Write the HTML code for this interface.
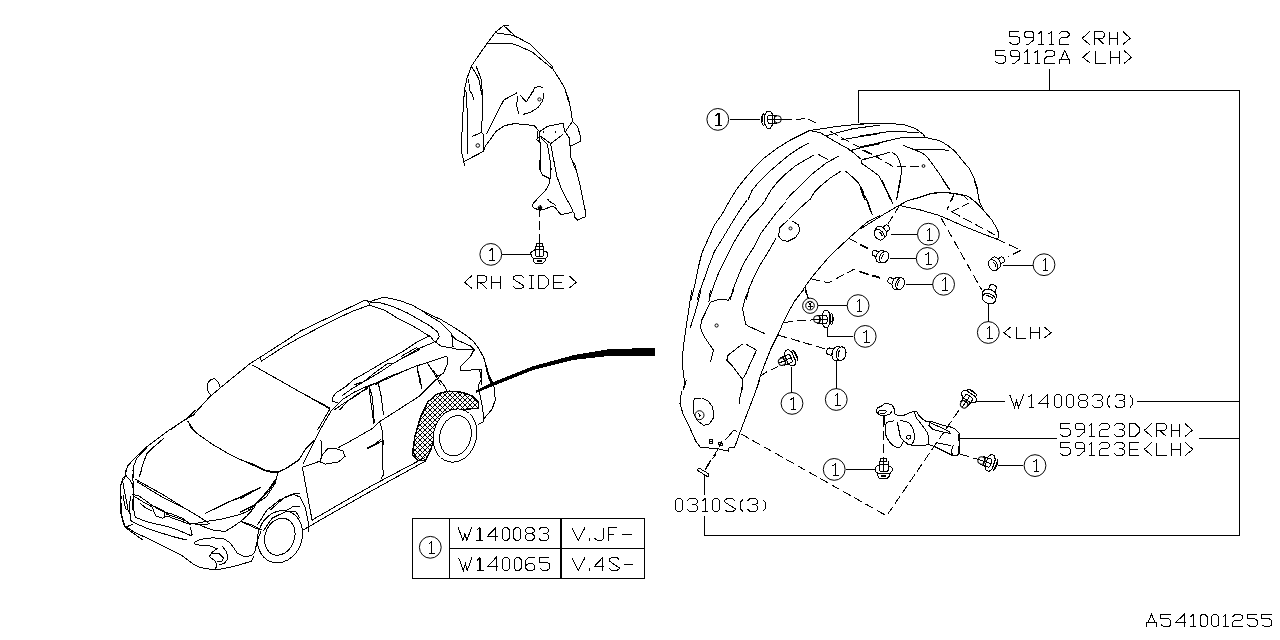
<!DOCTYPE html>
<html><head><meta charset="utf-8"><style>
html,body{margin:0;padding:0;background:#fff;}
body{width:1280px;height:640px;overflow:hidden;}
svg{display:block;}
svg path, svg circle, svg rect, svg ellipse, svg polyline{fill:none;stroke:#000;stroke-width:1;}
.d{stroke-dasharray:9 4;}
.c{shape-rendering:geometricPrecision;}
.s1{font-family:"Liberation Serif",serif;font-size:19px;text-anchor:middle;fill:#000;stroke:none;}
</style></head><body>
<svg width="1280" height="640" viewBox="0 0 1280 640" shape-rendering="crispEdges">
<path d="M 1019.40,31.50 H 1009.40 V 36.00 H 1016.90 L 1019.40,37.80 V 42.70 L 1016.90,44.50 H 1012.70 L 1009.40,42.30 M 1033.40,37.50 H 1026.00 L 1024.40,35.80 V 33.10 L 1026.00,31.50 H 1031.80 L 1033.40,33.10 V 40.50 L 1031.40,41.80 L 1028.70,44.50 H 1025.90 M 1038.40,34.00 L 1041.20,31.50 V 44.50 M 1038.40,44.50 H 1044.00 M 1048.70,34.00 L 1051.50,31.50 V 44.50 M 1048.70,44.50 H 1054.30 M 1059.00,34.00 L 1061.30,31.50 H 1066.80 L 1069.00,33.30 V 35.70 L 1066.80,37.50 H 1061.30 L 1059.00,39.70 V 44.50 H 1069.00 M 1089.70,31.50 L 1082.20,38.30 L 1089.70,44.50 M 1094.70,44.50 V 31.50 H 1102.30 L 1104.30,33.30 V 36.30 L 1102.30,38.50 H 1094.70 M 1097.70,38.50 L 1104.30,44.50 M 1109.30,31.50 V 44.50 M 1117.80,31.50 V 44.50 M 1109.30,38.50 H 1117.80 M 1122.80,31.50 L 1130.30,38.30 L 1122.80,44.50"/>
<path d="M 1005.20,50.50 H 995.20 V 55.00 H 1002.70 L 1005.20,56.80 V 61.70 L 1002.70,63.50 H 998.50 L 995.20,61.30 M 1019.20,56.50 H 1011.80 L 1010.20,54.80 V 52.10 L 1011.80,50.50 H 1017.60 L 1019.20,52.10 V 59.50 L 1017.20,60.80 L 1014.50,63.50 H 1011.70 M 1024.20,53.00 L 1027.00,50.50 V 63.50 M 1024.20,63.50 H 1029.80 M 1034.50,53.00 L 1037.30,50.50 V 63.50 M 1034.50,63.50 H 1040.10 M 1044.80,53.00 L 1047.10,50.50 H 1052.60 L 1054.80,52.30 V 54.70 L 1052.60,56.50 H 1047.10 L 1044.80,58.70 V 63.50 H 1054.80 M 1059.80,63.50 V 59.50 H 1069.80 V 63.50 M 1060.80,59.50 L 1064.80,50.50 L 1068.80,59.50 M 1090.50,50.50 L 1083.00,57.30 L 1090.50,63.50 M 1095.50,50.50 V 63.50 H 1105.50 M 1110.50,50.50 V 63.50 M 1119.00,50.50 V 63.50 M 1110.50,57.50 H 1119.00 M 1124.00,50.50 L 1131.50,57.30 L 1124.00,63.50"/>
<path d="M 472.10,275.50 L 464.60,282.30 L 472.10,288.50 M 477.10,288.50 V 275.50 H 484.70 L 486.70,277.30 V 280.30 L 484.70,282.50 H 477.10 M 480.10,282.50 L 486.70,288.50 M 491.70,275.50 V 288.50 M 500.20,275.50 V 288.50 M 491.70,282.50 H 500.20 M 523.70,277.90 L 521.20,275.50 H 515.50 L 513.20,277.30 V 279.00 L 523.70,285.80 V 286.80 L 521.20,288.50 H 515.70 L 513.20,286.50 M 528.70,275.50 H 533.70 M 531.20,275.50 V 288.50 M 528.70,288.50 H 533.70 M 538.70,275.50 V 288.50 H 544.20 L 548.70,284.30 V 279.70 L 544.20,275.50 Z M 563.70,275.50 H 553.70 V 288.50 H 563.70 M 553.70,282.00 H 562.20 M 568.70,275.50 L 576.20,282.30 L 568.70,288.50"/>
<path d="M 1009.60,394.50 L 1014.60,407.50 L 1016.60,400.50 L 1018.60,407.50 L 1023.60,394.50 M 1028.60,397.00 L 1031.40,394.50 V 407.50 M 1028.60,407.50 H 1034.20 M 1047.50,407.50 V 394.50 L 1038.90,403.30 H 1049.40 M 1056.40,394.50 H 1059.40 L 1061.40,396.50 V 405.50 L 1059.40,407.50 H 1056.40 L 1054.40,405.50 V 396.50 Z M 1068.40,394.50 H 1071.40 L 1073.40,396.50 V 405.50 L 1071.40,407.50 H 1068.40 L 1066.40,405.50 V 396.50 Z M 1080.40,394.50 H 1085.40 L 1087.40,396.40 V 398.70 L 1085.40,400.50 H 1080.40 L 1078.40,398.70 V 396.40 Z M 1080.40,400.50 L 1078.40,402.50 V 405.60 L 1080.40,407.50 H 1085.40 L 1087.40,405.60 V 402.50 L 1085.40,400.50 M 1092.40,397.00 L 1094.60,394.50 H 1100.20 L 1102.40,396.40 V 398.80 L 1100.20,400.50 H 1096.90 M 1100.20,400.50 L 1102.40,402.50 V 405.60 L 1100.20,407.50 H 1094.60 L 1092.40,405.30 M 1109.90,395.50 L 1107.40,398.50 V 404.50 L 1109.90,407.50 M 1114.90,397.00 L 1117.10,394.50 H 1122.70 L 1124.90,396.40 V 398.80 L 1122.70,400.50 H 1119.40 M 1122.70,400.50 L 1124.90,402.50 V 405.60 L 1122.70,407.50 H 1117.10 L 1114.90,405.30 M 1129.90,395.50 L 1132.40,398.50 V 404.50 L 1129.90,407.50"/>
<path d="M 1070.00,423.50 H 1060.00 V 428.00 H 1067.50 L 1070.00,429.80 V 434.70 L 1067.50,436.50 H 1063.30 L 1060.00,434.30 M 1084.00,429.50 H 1076.60 L 1075.00,427.80 V 425.10 L 1076.60,423.50 H 1082.40 L 1084.00,425.10 V 432.50 L 1082.00,433.80 L 1079.30,436.50 H 1076.50 M 1089.00,426.00 L 1091.80,423.50 V 436.50 M 1089.00,436.50 H 1094.60 M 1099.30,426.00 L 1101.60,423.50 H 1107.10 L 1109.30,425.30 V 427.70 L 1107.10,429.50 H 1101.60 L 1099.30,431.70 V 436.50 H 1109.30 M 1114.30,426.00 L 1116.50,423.50 H 1122.10 L 1124.30,425.40 V 427.80 L 1122.10,429.50 H 1118.80 M 1122.10,429.50 L 1124.30,431.50 V 434.60 L 1122.10,436.50 H 1116.50 L 1114.30,434.30 M 1129.30,423.50 V 436.50 H 1134.80 L 1139.30,432.30 V 427.70 L 1134.80,423.50 Z M 1151.80,423.50 L 1144.30,430.30 L 1151.80,436.50 M 1156.80,436.50 V 423.50 H 1164.40 L 1166.40,425.30 V 428.30 L 1164.40,430.50 H 1156.80 M 1159.80,430.50 L 1166.40,436.50 M 1171.40,423.50 V 436.50 M 1179.90,423.50 V 436.50 M 1171.40,430.50 H 1179.90 M 1184.90,423.50 L 1192.40,430.30 L 1184.90,436.50"/>
<path d="M 1070.00,442.50 H 1060.00 V 447.00 H 1067.50 L 1070.00,448.80 V 453.70 L 1067.50,455.50 H 1063.30 L 1060.00,453.30 M 1084.00,448.50 H 1076.60 L 1075.00,446.80 V 444.10 L 1076.60,442.50 H 1082.40 L 1084.00,444.10 V 451.50 L 1082.00,452.80 L 1079.30,455.50 H 1076.50 M 1089.00,445.00 L 1091.80,442.50 V 455.50 M 1089.00,455.50 H 1094.60 M 1099.30,445.00 L 1101.60,442.50 H 1107.10 L 1109.30,444.30 V 446.70 L 1107.10,448.50 H 1101.60 L 1099.30,450.70 V 455.50 H 1109.30 M 1114.30,445.00 L 1116.50,442.50 H 1122.10 L 1124.30,444.40 V 446.80 L 1122.10,448.50 H 1118.80 M 1122.10,448.50 L 1124.30,450.50 V 453.60 L 1122.10,455.50 H 1116.50 L 1114.30,453.30 M 1139.30,442.50 H 1129.30 V 455.50 H 1139.30 M 1129.30,449.00 H 1137.80 M 1151.80,442.50 L 1144.30,449.30 L 1151.80,455.50 M 1156.80,442.50 V 455.50 H 1166.80 M 1171.80,442.50 V 455.50 M 1180.30,442.50 V 455.50 M 1171.80,449.50 H 1180.30 M 1185.30,442.50 L 1192.80,449.30 L 1185.30,455.50"/>
<path d="M 677.40,498.50 H 680.40 L 682.40,500.50 V 509.50 L 680.40,511.50 H 677.40 L 675.40,509.50 V 500.50 Z M 687.40,501.00 L 689.60,498.50 H 695.20 L 697.40,500.40 V 502.80 L 695.20,504.50 H 691.90 M 695.20,504.50 L 697.40,506.50 V 509.60 L 695.20,511.50 H 689.60 L 687.40,509.30 M 702.40,501.00 L 705.20,498.50 V 511.50 M 702.40,511.50 H 708.00 M 714.70,498.50 H 717.70 L 719.70,500.50 V 509.50 L 717.70,511.50 H 714.70 L 712.70,509.50 V 500.50 Z M 735.20,500.90 L 732.70,498.50 H 727.00 L 724.70,500.30 V 502.00 L 735.20,508.80 V 509.80 L 732.70,511.50 H 727.20 L 724.70,509.50 M 742.70,499.50 L 740.20,502.50 V 508.50 L 742.70,511.50 M 747.70,501.00 L 749.90,498.50 H 755.50 L 757.70,500.40 V 502.80 L 755.50,504.50 H 752.20 M 755.50,504.50 L 757.70,506.50 V 509.60 L 755.50,511.50 H 749.90 L 747.70,509.30 M 762.70,499.50 L 765.20,502.50 V 508.50 L 762.70,511.50"/>
<path d="M 458.20,527.50 L 463.00,540.50 L 464.92,533.50 L 466.84,540.50 L 471.64,527.50 M 476.73,530.50 L 479.32,527.70 V 540.50 M 480.47,527.70 V 540.50 M 476.44,540.50 H 483.16 M 495.74,540.50 V 527.50 L 487.48,536.30 H 497.56 M 504.28,527.50 H 507.16 L 509.08,529.50 V 538.50 L 507.16,540.50 H 504.28 L 502.36,538.50 V 529.50 Z M 515.80,527.50 H 518.68 L 520.60,529.50 V 538.50 L 518.68,540.50 H 515.80 L 513.88,538.50 V 529.50 Z M 527.32,527.50 H 532.12 L 534.04,529.40 V 531.70 L 532.12,533.50 H 527.32 L 525.40,531.70 V 529.40 Z M 527.32,533.50 L 525.40,535.50 V 538.60 L 527.32,540.50 H 532.12 L 534.04,538.60 V 535.50 L 532.12,533.50 M 538.84,530.00 L 540.95,527.50 H 546.33 L 548.44,529.40 V 531.80 L 546.33,533.50 H 543.16 M 546.33,533.50 L 548.44,535.50 V 538.60 L 546.33,540.50 H 540.95 L 538.84,538.30"/>
<path d="M 571.70,527.50 L 578.35,540.50 L 585.00,527.50 M 589.75,538.00 V 540.50 M 603.52,527.50 V 538.20 L 601.43,540.50 H 597.35 L 594.50,538.30 M 617.30,527.50 H 608.27 V 540.50 M 608.27,534.00 H 613.98 M 622.05,534.00 H 631.55"/>
<path d="M 458.60,557.50 L 463.40,570.50 L 465.32,563.50 L 467.24,570.50 L 472.04,557.50 M 477.13,560.50 L 479.72,557.70 V 570.50 M 480.87,557.70 V 570.50 M 476.84,570.50 H 483.56 M 496.14,570.50 V 557.50 L 487.88,566.30 H 497.96 M 504.68,557.50 H 507.56 L 509.48,559.50 V 568.50 L 507.56,570.50 H 504.68 L 502.76,568.50 V 559.50 Z M 516.20,557.50 H 519.08 L 521.00,559.50 V 568.50 L 519.08,570.50 H 516.20 L 514.28,568.50 V 559.50 Z M 534.92,557.50 H 528.68 L 525.80,560.50 V 568.50 L 528.01,570.50 H 532.71 L 534.92,568.50 V 565.70 L 532.71,563.80 H 528.01 L 525.80,565.70 M 549.32,557.50 H 539.72 V 562.00 H 546.92 L 549.32,563.80 V 568.70 L 546.92,570.50 H 542.89 L 539.72,568.30"/>
<path d="M 571.70,557.50 L 578.35,570.50 L 585.00,557.50 M 589.75,568.00 V 570.50 M 602.67,570.50 V 557.50 L 594.50,566.30 H 604.48 M 619.20,559.90 L 616.83,557.50 H 611.41 L 609.23,559.30 V 561.00 L 619.20,567.80 V 568.80 L 616.83,570.50 H 611.60 L 609.23,568.50 M 623.95,564.00 H 633.45"/>
<path d="M 1146.50,626.70 V 622.95 H 1156.50 V 626.70 M 1147.50,622.95 L 1151.50,614.50 L 1155.50,622.95 M 1170.95,614.50 H 1160.95 V 618.72 H 1168.45 L 1170.95,620.41 V 625.01 L 1168.45,626.70 H 1164.25 L 1160.95,624.64 M 1184.00,626.70 V 614.50 L 1175.40,622.76 H 1185.90 M 1190.35,616.85 L 1193.15,614.50 V 626.70 M 1190.35,626.70 H 1195.95 M 1202.10,614.50 H 1205.10 L 1207.10,616.38 V 624.82 L 1205.10,626.70 H 1202.10 L 1200.10,624.82 V 616.38 Z M 1213.55,614.50 H 1216.55 L 1218.55,616.38 V 624.82 L 1216.55,626.70 H 1213.55 L 1211.55,624.82 V 616.38 Z M 1223.00,616.85 L 1225.80,614.50 V 626.70 M 1223.00,626.70 H 1228.60 M 1232.75,616.85 L 1235.05,614.50 H 1240.55 L 1242.75,616.19 V 618.44 L 1240.55,620.13 H 1235.05 L 1232.75,622.20 V 626.70 H 1242.75 M 1257.20,614.50 H 1247.20 V 618.72 H 1254.70 L 1257.20,620.41 V 625.01 L 1254.70,626.70 H 1250.50 L 1247.20,624.64 M 1271.65,614.50 H 1261.65 V 618.72 H 1269.15 L 1271.65,620.41 V 625.01 L 1269.15,626.70 H 1264.95 L 1261.65,624.64"/>
<path d="M 1011.40,326.50 L 1003.90,332.78 L 1011.40,338.50 M 1016.00,326.50 V 338.50 H 1026.00 M 1030.60,326.50 V 338.50 M 1039.10,326.50 V 338.50 M 1030.60,332.96 H 1039.10 M 1043.70,326.50 L 1051.20,332.78 L 1043.70,338.50"/>
<path d="M1049.50,69.00 L1049.50,90.50"/>
<path d="M858.50,123.00 L858.50,90.50 L1239.50,90.50 L1239.50,535.50 L704.50,535.50 L704.50,516.00"/>
<path d="M704.50,474.00 L704.50,495.00"/>
<path d="M1137.00,401.50 L1239.50,401.50"/>
<path d="M1199.00,438.50 L1239.50,438.50"/>
<rect x="412.5" y="518.5" width="232" height="60"/>
<path d="M449.50,518.50 L449.50,578.50"/>
<path d="M560.50,518.50 L560.50,578.50"/>
<path d="M561.50,518.50 L561.50,578.50"/>
<path d="M449.50,548.50 L644.50,548.50"/>
<circle cx="430.30" cy="547.30" r="10.90" class="c"/>
<path d="M428.80,543.80 L431.80,541.30 V553.50 M428.80,553.50 H434.60"/>
<g transform="translate(768.85 119.50) rotate(0.0) scale(1.000)"><path d="M-5.35,-6 Q-9.35,-0.2 -5.35,6.3 M-4.05,-5 V5.5 M-5.85,-3 Q-7.35,-0.2 -5.85,2.5"/><path d="M-1.85,-8.2 H1.45 L3.85,-5 V5 L1.45,8.5 H-1.85 L-3.85,5 V-5 Z" style="fill:#fff"/><path d="M-0.35,-4.5 H8.65 M-0.35,4 H8.65 M-0.35,-4.5 Q-2.35,-0.2 -0.35,4 M6.15,-4.5 V4"/><circle cx="8.85" cy="-0.2" r="3.6" class="c"/><path d="M-0.85,-0.2 H12.5"/></g>
<path d="M729.60,119.30 L760.00,119.30"/>
<path d="M781.00,119.30 L791.80,119.30"/>
<g transform="translate(539.10 254.50) rotate(0.0) scale(1.000)"><path d="M-2.8,-11 H3.1 V-8.4 H-2.8 Z"/><path d="M-3.7,-8.4 V1 L-2.5,2.3 H3.4 L4.6,1 V-8.4"/><path d="M-8.3,-2.1 L-4.35,-4.7 M4.6,-3.4 H7 L8.6,-1.2 V1.5 L6.6,4.1 H-5.2 L-7.85,1.9 L-8.3,-2.1"/><path d="M-5.9,4.9 L-4.8,8 L-3.5,9.1 H3.5 L6.15,6.25 L6.6,4.1"/><path d="M-2,5.6 H2.2 V6.7 H-2 Z"/><path d="M0.2,-12 V1.5 M-3.7,-5 H4.6"/></g>
<path d="M502.30,254.40 L530.70,254.40"/>
<path d="M539.10,208.00 L539.10,243.00" class="d"/>
<circle cx="540" cy="207.7" r="1.8" class="c"/>
<path d="M540,205 V211 M538,207.7 H542"/>
<g transform="translate(879.00 234.50) rotate(-40.0) scale(1.000)"><ellipse cx="10.5" cy="0" rx="2.2" ry="3" style="fill:#fff"/><path d="M10,-2.5 L7,-3.5 L6,0 L7,3.5 L10,2.5" style="fill:#fff"/><ellipse cx="3.2" cy="-0.5" rx="4.6" ry="6.4" style="fill:#fff"/><ellipse cx="0" cy="0.3" rx="4.2" ry="6" style="fill:#fff"/><path d="M1.5,-2.5 Q3,0.5 1.5,3.5"/></g>
<path d="M891.20,234.40 L917.00,234.40"/>
<g transform="translate(884.00 257.50) rotate(205.0) scale(1.000)"><ellipse cx="10.5" cy="0" rx="2.2" ry="3" style="fill:#fff"/><path d="M10,-2.5 L7,-3.5 L6,0 L7,3.5 L10,2.5" style="fill:#fff"/><ellipse cx="3.2" cy="-0.5" rx="4.6" ry="6.4" style="fill:#fff"/><ellipse cx="0" cy="0.3" rx="4.2" ry="6" style="fill:#fff"/><path d="M1.5,-2.5 Q3,0.5 1.5,3.5"/></g>
<path d="M889.70,258.40 L916.20,258.40"/>
<g transform="translate(900.00 284.00) rotate(200.0) scale(1.000)"><ellipse cx="10.5" cy="0" rx="2.2" ry="3" style="fill:#fff"/><path d="M10,-2.5 L7,-3.5 L6,0 L7,3.5 L10,2.5" style="fill:#fff"/><ellipse cx="3.2" cy="-0.5" rx="4.6" ry="6.4" style="fill:#fff"/><ellipse cx="0" cy="0.3" rx="4.2" ry="6" style="fill:#fff"/><path d="M1.5,-2.5 Q3,0.5 1.5,3.5"/></g>
<path d="M906.10,284.40 L932.70,284.40"/>
<g transform="translate(993.00 265.00) rotate(-30.0) scale(1.000)"><ellipse cx="10.5" cy="0" rx="2.2" ry="3" style="fill:#fff"/><path d="M10,-2.5 L7,-3.5 L6,0 L7,3.5 L10,2.5" style="fill:#fff"/><ellipse cx="3.2" cy="-0.5" rx="4.6" ry="6.4" style="fill:#fff"/><ellipse cx="0" cy="0.3" rx="4.2" ry="6" style="fill:#fff"/><path d="M1.5,-2.5 Q3,0.5 1.5,3.5"/></g>
<path d="M1003.00,265.20 L1032.70,265.20"/>
<g transform="translate(988.50 298.50) rotate(-68.0) scale(1.150)"><ellipse cx="10.5" cy="0" rx="2.2" ry="3" style="fill:#fff"/><path d="M10,-2.5 L7,-3.5 L6,0 L7,3.5 L10,2.5" style="fill:#fff"/><ellipse cx="3.2" cy="-0.5" rx="4.6" ry="6.4" style="fill:#fff"/><ellipse cx="0" cy="0.3" rx="4.2" ry="6" style="fill:#fff"/><path d="M1.5,-2.5 Q3,0.5 1.5,3.5"/></g>
<path d="M988.40,303.60 L988.40,321.60"/>
<circle cx="810.2" cy="305.8" r="7.6" class="c"/><circle cx="810" cy="305.6" r="4.3" class="c"/>
<path d="M808,302 L810,304.5 L812,302 M810,304.5 V309 M807.5,306 H812.5"/>
<path d="M818.00,305.60 L847.20,305.60"/>
<g transform="translate(826.00 319.00) rotate(180.0) scale(1.000)"><path d="M-5.35,-6 Q-9.35,-0.2 -5.35,6.3 M-4.05,-5 V5.5 M-5.85,-3 Q-7.35,-0.2 -5.85,2.5"/><path d="M-1.85,-8.2 H1.45 L3.85,-5 V5 L1.45,8.5 H-1.85 L-3.85,5 V-5 Z" style="fill:#fff"/><path d="M-0.35,-4.5 H8.65 M-0.35,4 H8.65 M-0.35,-4.5 Q-2.35,-0.2 -0.35,4 M6.15,-4.5 V4"/><circle cx="8.85" cy="-0.2" r="3.6" class="c"/><path d="M-0.85,-0.2 H12.5"/></g>
<path d="M827.70,327.50 L827.70,336.40 L852.50,336.40"/>
<g transform="translate(790.00 358.00) rotate(156.0) scale(1.000)"><path d="M-5.35,-6 Q-9.35,-0.2 -5.35,6.3 M-4.05,-5 V5.5 M-5.85,-3 Q-7.35,-0.2 -5.85,2.5"/><path d="M-1.85,-8.2 H1.45 L3.85,-5 V5 L1.45,8.5 H-1.85 L-3.85,5 V-5 Z" style="fill:#fff"/><path d="M-0.35,-4.5 H8.65 M-0.35,4 H8.65 M-0.35,-4.5 Q-2.35,-0.2 -0.35,4 M6.15,-4.5 V4"/><circle cx="8.85" cy="-0.2" r="3.6" class="c"/><path d="M-0.85,-0.2 H12.5"/></g>
<path d="M791.40,366.60 L791.40,392.60"/>
<g transform="translate(841.00 354.00) rotate(192.0) scale(1.150)"><ellipse cx="10.5" cy="0" rx="2.2" ry="3" style="fill:#fff"/><path d="M10,-2.5 L7,-3.5 L6,0 L7,3.5 L10,2.5" style="fill:#fff"/><ellipse cx="3.2" cy="-0.5" rx="4.6" ry="6.4" style="fill:#fff"/><ellipse cx="0" cy="0.3" rx="4.2" ry="6" style="fill:#fff"/><path d="M1.5,-2.5 Q3,0.5 1.5,3.5"/></g>
<path d="M836.25,362.00 L836.25,388.60"/>
<g transform="translate(969.00 397.00) rotate(125.0) scale(1.000)"><path d="M-5.35,-6 Q-9.35,-0.2 -5.35,6.3 M-4.05,-5 V5.5 M-5.85,-3 Q-7.35,-0.2 -5.85,2.5"/><path d="M-1.85,-8.2 H1.45 L3.85,-5 V5 L1.45,8.5 H-1.85 L-3.85,5 V-5 Z" style="fill:#fff"/><path d="M-0.35,-4.5 H8.65 M-0.35,4 H8.65 M-0.35,-4.5 Q-2.35,-0.2 -0.35,4 M6.15,-4.5 V4"/><circle cx="8.85" cy="-0.2" r="3.6" class="c"/><path d="M-0.85,-0.2 H12.5"/></g>
<path d="M975.60,401.30 L1005.30,401.30"/>
<g transform="translate(990.00 463.00) rotate(198.0) scale(1.000)"><path d="M-5.35,-6 Q-9.35,-0.2 -5.35,6.3 M-4.05,-5 V5.5 M-5.85,-3 Q-7.35,-0.2 -5.85,2.5"/><path d="M-1.85,-8.2 H1.45 L3.85,-5 V5 L1.45,8.5 H-1.85 L-3.85,5 V-5 Z" style="fill:#fff"/><path d="M-0.35,-4.5 H8.65 M-0.35,4 H8.65 M-0.35,-4.5 Q-2.35,-0.2 -0.35,4 M6.15,-4.5 V4"/><circle cx="8.85" cy="-0.2" r="3.6" class="c"/><path d="M-0.85,-0.2 H12.5"/></g>
<path d="M998.30,465.60 L1023.30,465.60"/>
<g transform="translate(883.40 469.50) rotate(0.0) scale(1.000)"><path d="M-2.8,-11 H3.1 V-8.4 H-2.8 Z"/><path d="M-3.7,-8.4 V1 L-2.5,2.3 H3.4 L4.6,1 V-8.4"/><path d="M-8.3,-2.1 L-4.35,-4.7 M4.6,-3.4 H7 L8.6,-1.2 V1.5 L6.6,4.1 H-5.2 L-7.85,1.9 L-8.3,-2.1"/><path d="M-5.9,4.9 L-4.8,8 L-3.5,9.1 H3.5 L6.15,6.25 L6.6,4.1"/><path d="M-2,5.6 H2.2 V6.7 H-2 Z"/><path d="M0.2,-12 V1.5 M-3.7,-5 H4.6"/></g>
<path d="M846.00,469.40 L874.80,469.40"/>
<path d="M883.40,418.00 L883.40,458.00" class="d"/>
<path d="M697,470 L699,468 L709,474 L708,477 Z"/>
<path d="M705.00,470.00 L716.00,454.00" class="d"/>
<path d="M740.90,433.90 L886.60,515.80 L960.00,408.60" class="d"/>
<path d="M960.00,454.00 L978.00,459.40" class="d"/>
<defs><clipPath id="ac"><path d="M412.20,454.90 L414.90,436.30 L420.20,417.70 L428.10,401.70 L437.40,393.80 L449.40,391.10 L462.70,392.40 L473.30,396.40 L478.60,401.70 L478.60,408.00 L476.00,408.40 L460.00,409.70 L446.70,415.00 L438.80,423.00 L434.80,436.30 L430.80,449.60 L425.50,460.20 L417.50,460.20 Z"/></clipPath></defs>
<path d="M400.0,250.0 L490.0,340.0 M400.0,280.0 L490.0,190.0 M400.0,255.0 L490.0,345.0 M400.0,285.0 L490.0,195.0 M400.0,260.0 L490.0,350.0 M400.0,290.0 L490.0,200.0 M400.0,265.0 L490.0,355.0 M400.0,295.0 L490.0,205.0 M400.0,270.0 L490.0,360.0 M400.0,300.0 L490.0,210.0 M400.0,275.0 L490.0,365.0 M400.0,305.0 L490.0,215.0 M400.0,280.0 L490.0,370.0 M400.0,310.0 L490.0,220.0 M400.0,285.0 L490.0,375.0 M400.0,315.0 L490.0,225.0 M400.0,290.0 L490.0,380.0 M400.0,320.0 L490.0,230.0 M400.0,295.0 L490.0,385.0 M400.0,325.0 L490.0,235.0 M400.0,300.0 L490.0,390.0 M400.0,330.0 L490.0,240.0 M400.0,305.0 L490.0,395.0 M400.0,335.0 L490.0,245.0 M400.0,310.0 L490.0,400.0 M400.0,340.0 L490.0,250.0 M400.0,315.0 L490.0,405.0 M400.0,345.0 L490.0,255.0 M400.0,320.0 L490.0,410.0 M400.0,350.0 L490.0,260.0 M400.0,325.0 L490.0,415.0 M400.0,355.0 L490.0,265.0 M400.0,330.0 L490.0,420.0 M400.0,360.0 L490.0,270.0 M400.0,335.0 L490.0,425.0 M400.0,365.0 L490.0,275.0 M400.0,340.0 L490.0,430.0 M400.0,370.0 L490.0,280.0 M400.0,345.0 L490.0,435.0 M400.0,375.0 L490.0,285.0 M400.0,350.0 L490.0,440.0 M400.0,380.0 L490.0,290.0 M400.0,355.0 L490.0,445.0 M400.0,385.0 L490.0,295.0 M400.0,360.0 L490.0,450.0 M400.0,390.0 L490.0,300.0 M400.0,365.0 L490.0,455.0 M400.0,395.0 L490.0,305.0 M400.0,370.0 L490.0,460.0 M400.0,400.0 L490.0,310.0 M400.0,375.0 L490.0,465.0 M400.0,405.0 L490.0,315.0 M400.0,380.0 L490.0,470.0 M400.0,410.0 L490.0,320.0 M400.0,385.0 L490.0,475.0 M400.0,415.0 L490.0,325.0 M400.0,390.0 L490.0,480.0 M400.0,420.0 L490.0,330.0 M400.0,395.0 L490.0,485.0 M400.0,425.0 L490.0,335.0 M400.0,400.0 L490.0,490.0 M400.0,430.0 L490.0,340.0 M400.0,405.0 L490.0,495.0 M400.0,435.0 L490.0,345.0 M400.0,410.0 L490.0,500.0 M400.0,440.0 L490.0,350.0 M400.0,415.0 L490.0,505.0 M400.0,445.0 L490.0,355.0 M400.0,420.0 L490.0,510.0 M400.0,450.0 L490.0,360.0 M400.0,425.0 L490.0,515.0 M400.0,455.0 L490.0,365.0 M400.0,430.0 L490.0,520.0 M400.0,460.0 L490.0,370.0 M400.0,435.0 L490.0,525.0 M400.0,465.0 L490.0,375.0 M400.0,440.0 L490.0,530.0 M400.0,470.0 L490.0,380.0 M400.0,445.0 L490.0,535.0 M400.0,475.0 L490.0,385.0 M400.0,450.0 L490.0,540.0 M400.0,480.0 L490.0,390.0 M400.0,455.0 L490.0,545.0 M400.0,485.0 L490.0,395.0 M400.0,460.0 L490.0,550.0 M400.0,490.0 L490.0,400.0 M400.0,465.0 L490.0,555.0 M400.0,495.0 L490.0,405.0 M400.0,470.0 L490.0,560.0 M400.0,500.0 L490.0,410.0 M400.0,475.0 L490.0,565.0 M400.0,505.0 L490.0,415.0 M400.0,480.0 L490.0,570.0 M400.0,510.0 L490.0,420.0 M400.0,485.0 L490.0,575.0 M400.0,515.0 L490.0,425.0 M400.0,490.0 L490.0,580.0 M400.0,520.0 L490.0,430.0 M400.0,495.0 L490.0,585.0 M400.0,525.0 L490.0,435.0 M400.0,500.0 L490.0,590.0 M400.0,530.0 L490.0,440.0 M400.0,505.0 L490.0,595.0 M400.0,535.0 L490.0,445.0 M400.0,510.0 L490.0,600.0 M400.0,540.0 L490.0,450.0 M400.0,515.0 L490.0,605.0 M400.0,545.0 L490.0,455.0 M400.0,520.0 L490.0,610.0 M400.0,550.0 L490.0,460.0 M400.0,525.0 L490.0,615.0 M400.0,555.0 L490.0,465.0 M400.0,530.0 L490.0,620.0 M400.0,560.0 L490.0,470.0 M400.0,535.0 L490.0,625.0 M400.0,565.0 L490.0,475.0 M400.0,540.0 L490.0,630.0 M400.0,570.0 L490.0,480.0 M400.0,545.0 L490.0,635.0 M400.0,575.0 L490.0,485.0" clip-path="url(#ac)"/>
<path d="M412.20,454.90 L414.90,436.30 L420.20,417.70 L428.10,401.70 L437.40,393.80 L449.40,391.10 L462.70,392.40 L473.30,396.40 L478.60,401.70 L478.60,408.00 L476.00,408.40 L460.00,409.70 L446.70,415.00 L438.80,423.00 L434.80,436.30 L430.80,449.60 L425.50,460.20 L417.50,460.20 Z" style="stroke-width:1.4"/>
<ellipse cx="280.00" cy="536.70" rx="22.00" ry="26.70" transform="rotate(20.0 280.00 536.70)" style="fill:#fff"/>
<ellipse cx="279.80" cy="536.70" rx="14.70" ry="19.00" transform="rotate(20.0 279.80 536.70)"/>
<ellipse cx="455.00" cy="435.50" rx="21.50" ry="27.00" transform="rotate(15.0 455.00 435.50)" style="fill:#fff"/>
<ellipse cx="455.50" cy="435.80" rx="15.50" ry="20.50" transform="rotate(15.0 455.50 435.80)"/>
<path d="M476,391 L495,381.9 L532.5,366.9 L573.75,355.6 L607.5,350 L654.4,348.1 L654.4,355.6 L607.5,355.6 L573.75,359.4 L532.5,369.7 L476,392.2 Z" style="fill:#000"/>
<ellipse cx="882.20" cy="411.80" rx="4.00" ry="1.50" transform="rotate(0.0 882.20 411.80)"/>
<circle cx="908.6" cy="437.1" r="2"/>
<path d="M960.00,438.30 L1057.00,438.30"/>
<circle cx="790.5" cy="228.4" r="1.5" class="c"/>
<circle cx="716.6" cy="325.5" r="1.6" class="c"/>
<circle cx="699.5" cy="415.2" r="4.5" class="c"/>
<circle cx="923.5" cy="166.0" r="1.4" class="c"/>
<circle cx="477.8" cy="145.5" r="1.8" class="c"/>
<circle cx="539.4" cy="99.4" r="1.6" class="c"/>
<path d="M698.5,413.5 L700,415.5 L699,417"/>
<path d="M709.5,439 H712.5 V443.5 H709.5 Z M709.5,441.2 H712.5"/>
<path d="M718.5,443 L721.5,442 L722.5,445 L719.5,446 Z M719,444.5 L722,443.5"/>
<circle cx="717.80" cy="119.40" r="10.90" class="c"/>
<path d="M715.30,115.90 L718.30,113.40"/>
<path d="M718.60,112.90 V125.40" style="stroke-width:2"/>
<path d="M714.80,125.40 H722.30"/>
<circle cx="928.40" cy="234.20" r="10.90" class="c"/>
<path d="M926.90,230.70 L929.90,228.20 V240.40 M926.90,240.40 H932.70"/>
<circle cx="927.20" cy="258.40" r="10.90" class="c"/>
<path d="M925.70,254.90 L928.70,252.40 V264.60 M925.70,264.60 H931.50"/>
<circle cx="943.60" cy="284.30" r="10.90" class="c"/>
<path d="M942.10,280.80 L945.10,278.30 V290.50 M942.10,290.50 H947.90"/>
<circle cx="1044.00" cy="264.70" r="10.90" class="c"/>
<path d="M1042.50,261.20 L1045.50,258.70 V270.90 M1042.50,270.90 H1048.30"/>
<circle cx="988.30" cy="332.50" r="10.90" class="c"/>
<path d="M986.80,329.00 L989.80,326.50 V338.70 M986.80,338.70 H992.60"/>
<circle cx="490.80" cy="254.40" r="10.90" class="c"/>
<path d="M489.30,250.90 L492.30,248.40 V260.60 M489.30,260.60 H495.10"/>
<circle cx="858.10" cy="305.60" r="10.90" class="c"/>
<path d="M856.60,302.10 L859.60,299.60 V311.80 M856.60,311.80 H862.40"/>
<circle cx="865.20" cy="336.40" r="10.90" class="c"/>
<path d="M863.70,332.90 L866.70,330.40 V342.60 M863.70,342.60 H869.50"/>
<circle cx="792.00" cy="403.40" r="10.90" class="c"/>
<path d="M790.50,399.90 L793.50,397.40 V409.60 M790.50,409.60 H796.30"/>
<circle cx="836.25" cy="399.50" r="10.90" class="c"/>
<path d="M834.75,396.00 L837.75,393.50 V405.70 M834.75,405.70 H840.55"/>
<circle cx="834.20" cy="469.40" r="10.90" class="c"/>
<path d="M832.70,465.90 L835.70,463.40 V475.60 M832.70,475.60 H838.50"/>
<circle cx="1035.00" cy="465.60" r="10.90" class="c"/>
<path d="M1033.50,462.10 L1036.50,459.60 V471.80 M1033.50,471.80 H1039.30"/>
<path d="M503.75,25.62 L508.50,25.25"/>
<path d="M503.75,25.62 L495.62,31.88 L486.88,43.75 L479.38,54.38 L471.25,66.25 L466.88,78.75 L464.38,90.00 L463.75,100.00"/>
<path d="M495.62,32.50 L496.88,33.12 L513.12,35.25 L518.12,38.12"/>
<path d="M503.75,25.62 L515.00,36.00 L530.62,44.38 L552.50,66.25 L553.12,69.38 L560.00,80.00 L565.00,88.75 L568.12,100.00"/>
<path d="M486.88,43.75 L490.00,43.12 L511.88,43.75 L518.12,45.62 L532.50,52.25 L552.50,68.75"/>
<path d="M471.25,66.25 L475.00,71.88 L477.75,76.88 L479.38,80.62 L480.00,85.00 L480.00,90.62"/>
<path d="M476.25,66.25 L477.75,70.62 L479.38,74.38 L481.00,78.75 L481.88,83.75 L482.25,100.00"/>
<path d="M468.75,78.75 L469.38,90.00 L472.50,95.00 L473.75,100.00"/>
<path d="M517.50,92.50 L505.00,99.38"/>
<path d="M527.50,100.00 L535.00,87.50 L540.00,86.25 L543.12,88.12"/>
<path d="M464.38,90.00 L463.75,102.50 L462.75,115.00 L462.25,127.50 L461.50,142.50 L461.88,153.75 L463.75,161.25 L464.38,165.62"/>
<path d="M462.50,162.25 L483.75,151.25"/>
<path d="M465.62,90.00 L466.88,96.25 L467.50,153.75"/>
<path d="M481.88,90.00 L482.25,102.50 L481.88,132.50"/>
<path d="M472.25,136.50 L481.25,132.50 L483.12,134.38 L483.75,141.88 L483.75,151.25"/>
<path d="M486.25,134.38 L503.75,100.00 L517.50,92.50"/>
<path d="M518.12,95.62 L516.50,105.00 L518.75,113.50"/>
<path d="M520.00,95.00 L526.25,101.88 L533.12,91.25"/>
<path d="M543.75,93.12 L542.75,100.62 L538.12,107.50 L530.00,112.50 L523.12,114.38"/>
<path d="M483.75,151.25 L485.25,146.25 L496.25,131.25 L504.38,125.62 L515.00,123.50 L519.38,124.00 L534.38,125.62 L538.12,130.00 L536.88,140.00 L538.75,141.25"/>
<path d="M540.00,131.25 L547.50,126.25 L563.12,123.12 L564.38,130.62 L569.38,138.12 L570.00,146.25 L570.00,155.00 L575.62,170.00"/>
<path d="M565.00,90.00 L568.12,97.50 L570.62,108.75 L572.50,121.25 L577.50,126.25 L580.00,135.00 L580.62,141.25 L570.00,146.25"/>
<path d="M572.50,121.25 L565.62,131.25"/>
<path d="M540.00,131.25 L539.00,137.50 L540.00,142.50 L540.00,170.00"/>
<path d="M540.62,136.25 L547.50,141.25 L550.62,143.75 L553.12,157.50 L555.62,170.00"/>
<path d="M541.25,138.12 L547.50,144.38 L548.75,152.50 L550.00,160.00 L551.25,170.00"/>
<path d="M550.62,143.75 L563.12,134.38"/>
<path d="M543.12,131.25 L543.12,133.12"/>
<path d="M555.00,131.25 L555.25,133.12"/>
<path d="M540.00,160.00 L539.62,168.75 L542.50,175.00 L550.00,178.75"/>
<path d="M550.00,160.00 L550.00,178.75 L548.75,185.00 L545.00,191.25 L537.50,198.75 L532.50,204.38 L533.12,207.50 L538.75,210.00 L543.75,209.38 L552.50,206.25 L555.62,208.12 L558.12,211.25 L560.62,214.38 L566.25,213.75 L572.50,211.88 L574.38,213.12 L574.38,216.88 L577.50,220.00 L585.00,216.88 L585.62,212.50 L580.00,185.00 L575.00,165.00 L572.50,161.25"/>
<path d="M553.75,160.00 L556.88,176.25 L560.62,186.88 L565.00,196.25 L570.00,205.00 L573.12,211.25"/>
<path d="M547.50,198.75 L549.38,201.25 L556.25,205.62"/>
<path d="M809.69,130.47 L800.31,135.16 L789.38,140.62 L776.88,148.44 L764.38,157.81 L753.44,168.75 L744.06,179.69 L736.25,189.84 L730.00,200.00"/>
<path d="M808.91,142.97 L798.75,148.44 L789.38,154.69 L780.00,162.50 L769.06,171.88 L758.12,182.81 L751.88,190.62 L747.97,200.00"/>
<path d="M814.38,154.69 L805.00,160.16 L795.62,165.62 L786.25,173.44 L776.88,182.81 L770.62,190.62 L765.16,200.00"/>
<path d="M817.50,153.91 L827.66,159.38"/>
<path d="M838.59,156.25 L826.88,162.50 L812.81,173.44 L798.75,187.50 L791.72,193.75 L786.25,200.00"/>
<path d="M840.94,171.09 L830.00,178.12 L820.62,185.94 L814.38,192.19 L809.69,200.00"/>
<path d="M845.62,171.09 L851.88,176.56 L858.12,182.81 L862.81,190.62 L865.16,200.00"/>
<path d="M809.69,130.47 L820.62,128.91 L836.25,126.56 L858.12,124.22 L880.00,123.44"/>
<path d="M825.31,135.94 L851.88,128.91 L880.00,125.00"/>
<path d="M840.94,139.84 L859.69,136.72 L880.00,133.59"/>
<path d="M849.53,150.78 L864.38,146.88 L880.00,143.75"/>
<path d="M862.81,159.38 L880.00,155.47"/>
<path d="M809.69,130.47 L820.62,132.81 L836.25,142.19 L850.31,150.00 L861.25,159.38"/>
<path d="M780.00,119.53 L791.72,119.53"/>
<path d="M795.62,119.53 L806.56,118.44 L819.06,124.69" class="d"/>
<path d="M830.00,131.25 L880.00,158.59" class="d"/>
<path d="M860.00,123.44 L875.62,123.12 L891.25,123.44 L905.31,125.00 L914.69,128.12 L922.50,133.59 L925.62,137.50"/>
<path d="M925.62,137.50 L939.69,140.62 L947.50,145.31 L955.31,151.56 L961.56,159.38 L969.38,168.75 L974.06,178.12 L977.19,187.50 L978.75,200.00"/>
<path d="M860.00,135.94 L872.50,134.06 L891.25,131.25 L906.88,132.03 L919.38,132.03"/>
<path d="M860.00,146.88 L875.62,143.75 L897.50,138.28 L906.88,137.19 L925.62,137.50"/>
<path d="M902.97,145.31 L913.12,149.22 L935.00,149.22 L949.06,150.31"/>
<path d="M911.56,148.44 L922.50,153.12 L927.19,157.03 L938.12,171.88 L949.84,189.84"/>
<path d="M861.56,160.16 L889.69,152.34"/>
<path d="M892.03,152.34 L897.50,156.25 L900.94,165.62 L901.41,173.44 L898.28,189.06 L896.72,200.00"/>
<path d="M861.56,160.16 L861.56,163.28 L869.38,168.75 L878.75,175.78 L885.00,187.50 L890.47,200.00"/>
<path d="M860.00,187.50 L864.69,200.00"/>
<path d="M914.69,199.22 L931.88,193.44 L942.81,192.50 L953.75,193.44 L966.25,196.09"/>
<path d="M953.75,193.75 L952.19,200.00"/>
<path d="M963.12,195.31 L967.81,200.00"/>
<path d="M862.34,150.00 L885.00,161.72 L892.81,166.41 L921.72,166.41" class="d"/>
<path d="M730.00,200.00 L722.19,214.06 L714.38,225.00 L708.12,239.06 L701.88,253.12 L698.75,265.62 L695.62,281.25 L693.28,290.62 L690.94,300.00"/>
<path d="M747.19,200.00 L739.38,210.94 L731.56,223.44 L722.19,239.06 L714.38,251.56 L708.91,265.62 L703.44,281.25 L698.75,293.75 L697.19,300.00"/>
<path d="M765.94,200.00 L758.12,209.38 L750.31,217.19 L742.50,228.12 L733.12,243.75 L726.88,256.25 L719.06,271.88 L713.59,285.94 L708.91,300.00"/>
<path d="M786.25,201.56 L775.31,214.06 L761.25,232.81 L755.00,245.31 L744.06,262.50 L739.38,273.44 L733.12,289.06 L730.00,300.00"/>
<path d="M808.91,200.00 L798.75,209.38 L789.38,218.75"/>
<path d="M787.81,220.31 L780.00,227.34 L778.44,235.94 L781.56,239.84 L787.81,241.41 L795.62,237.50 L799.53,231.25 L798.75,225.00 L792.50,221.09"/>
<path d="M776.09,238.28 L767.50,253.12 L759.69,265.62 L753.44,278.12 L748.75,289.06 L746.41,300.00"/>
<path d="M880.00,215.62 L867.50,221.88 L856.56,231.25 L848.75,238.28 L836.25,250.00 L826.88,259.38 L817.50,270.31 L811.25,278.12 L805.00,286.72 L800.31,293.75 L795.62,300.00"/>
<path d="M805.00,285.94 L808.12,298.44"/>
<path d="M867.50,200.00 L872.19,214.84"/>
<path d="M848.75,238.28 L869.84,249.22" class="d"/>
<path d="M811.25,278.91 L828.44,282.81 L853.44,269.53 L880.00,277.34" class="d"/>
<path d="M860.00,229.22 L872.50,221.41 L885.00,213.59 L899.84,205.00 L906.88,201.09 L919.38,197.19 L931.88,193.28 L941.25,192.19 L953.75,193.28 L966.25,195.62 L969.38,197.19"/>
<path d="M899.84,205.00 L902.19,206.25 L919.38,209.69 L938.12,215.16 L945.94,218.28 L961.56,225.31 L977.19,231.56 L985.00,234.69 L997.50,239.38"/>
<path d="M969.38,197.19 L977.19,203.44 L983.44,210.47 L991.25,219.06 L995.94,226.88 L999.06,233.91 L997.50,239.38"/>
<path d="M974.06,180.00 L977.19,189.38 L979.53,201.88 L983.44,210.47"/>
<path d="M881.88,180.00 L892.81,203.44"/>
<path d="M900.62,180.00 L896.72,198.75"/>
<path d="M860.00,187.81 L866.25,198.75 L871.72,214.38"/>
<path d="M942.81,180.00 L949.84,190.16"/>
<path d="M997.50,239.38 L1020.94,250.31 L1008.44,256.56" class="d"/>
<path d="M950.62,212.03 L969.38,202.66" class="d"/>
<path d="M952.19,212.03 L997.50,236.25" class="d"/>
<path d="M953.75,194.06 L946.72,210.47" class="d"/>
<path d="M941.25,218.28 L981.88,290.16" class="d"/>
<path d="M899.84,205.00 L888.12,223.75" class="d"/>
<path d="M860.00,244.84 L870.94,250.31" class="d"/>
<path d="M860.00,272.19 L880.31,278.44" class="d"/>
<path d="M691.72,290.00 L689.38,305.62 L687.03,321.25 L684.69,336.88 L682.81,352.50 L682.34,365.00 L683.91,377.50 L684.69,383.75 L683.12,390.00"/>
<path d="M701.09,290.00 L697.19,305.62 L693.28,318.12 L690.16,328.28"/>
<path d="M710.47,290.00 L708.91,301.72"/>
<path d="M709.69,302.50 L719.06,299.38 L728.44,300.16 L730.78,296.25 L733.91,290.00"/>
<path d="M709.69,303.28 L705.00,313.44 L701.88,319.69 L700.31,327.50 L703.44,335.31 L709.69,344.69 L713.59,350.16 L710.47,361.88"/>
<path d="M748.75,290.00 L744.84,299.38 L742.50,308.75 L744.06,316.56 L745.62,324.38 L749.53,326.72 L765.16,333.75"/>
<path d="M745.62,343.91 L756.56,350.16 L750.31,363.44 L745.62,374.38 L742.50,379.06 L742.50,390.00"/>
<path d="M742.50,343.91 L731.56,352.50 L727.66,355.62 L726.88,360.31 L731.56,365.00 L740.94,377.50 L742.50,379.84"/>
<path d="M803.44,290.00 L795.62,299.38 L789.38,310.31 L783.12,322.81 L777.66,335.31 L770.62,349.38 L764.38,365.00 L759.69,377.50 L756.56,390.00"/>
<path d="M805.00,290.00 L808.12,297.81"/>
<path d="M783.91,322.81 L792.50,321.25 L815.94,319.69" class="d"/>
<path d="M778.44,335.31 L792.50,339.22 L808.12,343.91 L826.88,349.38" class="d"/>
<path d="M759.69,376.72 L767.50,371.25 L778.44,366.56" class="d"/>
<path d="M686.25,380.00 L684.38,387.81"/>
<path d="M681.56,390.94 L680.00,403.44 L683.12,414.38 L689.38,426.88 L695.62,440.94 L700.31,447.19 L717.50,448.75 L728.44,451.09 L729.22,447.19 L734.69,447.19 L739.38,433.91 L745.62,417.50 L753.44,397.19 L759.69,380.00"/>
<path d="M694.06,398.75 L701.88,397.97 L708.12,401.09 L712.81,407.34 L713.59,417.50 L709.69,423.75 L703.44,425.31 L697.19,420.62 L693.28,412.81 L694.06,398.75"/>
<path d="M742.50,381.56 L741.72,390.94 L740.16,395.62 L739.38,404.22"/>
<path d="M725.31,440.16 L733.91,430.00 L737.03,431.56"/>
<path d="M718.28,448.75 L705.00,469.06" class="d"/>
<path d="M300.00,331.25 L363.75,300.70 L367.50,300.70 L370.00,305.00"/>
<path d="M300.00,337.66 L322.50,325.70 L333.75,320.00 L352.50,311.25 L370.00,305.00"/>
<path d="M368.75,302.19 L375.00,299.84 L382.81,297.50 L387.50,297.81 L400.00,300.62 L412.50,305.31 L425.00,312.34 L440.62,319.38 L456.25,328.75 L465.62,335.00 L473.44,341.25 L478.12,347.50 L482.81,355.31 L485.94,364.69 L489.06,375.62 L492.19,385.00"/>
<path d="M370.31,302.97 L381.25,302.97 L393.75,306.88 L407.81,313.12 L418.75,319.38 L429.69,325.62 L437.50,331.88 L439.06,336.56 L435.94,342.03"/>
<path d="M370.31,305.31 L384.38,310.00 L396.88,317.81 L409.38,324.06 L420.31,330.31 L425.00,333.44 L431.25,337.34 L433.59,340.47"/>
<path d="M425.00,313.12 L440.62,322.50 L451.56,333.44 L453.12,347.50"/>
<path d="M434.38,341.25 L440.62,345.94 L453.12,348.28 L459.38,349.84 L470.31,349.06 L475.00,350.62"/>
<path d="M451.56,335.00 L456.25,339.69 L470.31,345.94 L475.00,350.62"/>
<path d="M375.00,385.00 L387.50,377.19 L406.25,370.16 L415.62,366.25 L428.12,362.34 L446.88,356.09 L447.66,363.12 L443.75,372.50 L437.50,378.75 L431.25,383.44"/>
<path d="M417.19,366.25 L420.31,385.00"/>
<path d="M426.56,361.56 L437.50,378.75 L440.62,385.00"/>
<path d="M473.44,350.62 L470.31,356.88 L460.94,366.25 L460.94,370.16 L468.75,370.16 L481.25,369.38 L482.03,385.00"/>
<path d="M479.69,350.62 L484.38,358.44 L485.94,366.25 L489.06,378.75 L492.19,385.00"/>
<path d="M170.31,430.00 L181.25,422.19 L193.75,414.38 L209.38,397.19 L220.31,387.81 L237.50,373.75 L250.00,363.59 L262.50,355.78 L300.00,331.56"/>
<path d="M260.16,356.56 L261.25,361.25 L282.50,347.50 L300.00,337.50"/>
<path d="M210.94,395.62 L207.81,390.94 L207.81,383.12 L210.94,379.22 L214.84,378.75 L218.75,383.12 L220.31,387.81"/>
<path d="M187.50,420.62 L193.75,430.00"/>
<path d="M181.25,422.19 L194.53,414.38"/>
<path d="M252.66,365.16 L330.00,408.91"/>
<path d="M330.00,408.91 L317.50,430.00"/>
<path d="M369.06,387.81 L373.75,423.75"/>
<path d="M195.31,410.00 L187.50,417.81 L178.12,424.06 L168.75,430.31 L159.38,437.34 L146.88,446.72 L135.94,456.88 L127.34,466.25 L125.78,472.50 L125.00,477.19 L121.88,481.88 L120.31,486.56 L121.09,497.50 L120.31,510.00"/>
<path d="M164.06,438.12 L153.12,447.50 L146.88,453.75 L143.75,461.56 L139.06,477.19"/>
<path d="M146.88,447.50 L142.19,452.19 L136.72,458.44 L133.59,466.25 L132.81,477.19 L133.59,491.25 L132.81,510.00"/>
<path d="M188.28,420.94 L190.62,427.19 L196.88,433.44 L212.50,444.38 L231.25,455.31 L248.44,463.12 L265.62,470.94 L270.31,472.19 L278.12,472.50 L287.50,467.81 L296.88,461.56 L300.00,458.44"/>
<path d="M134.38,478.75 L162.50,494.38 L187.50,510.00"/>
<path d="M278.12,472.50 L275.00,481.88 L268.75,491.25 L260.94,499.06 L254.69,505.31 L248.44,510.00"/>
<path d="M260.94,487.34 L240.62,497.50 L228.12,502.19 L212.50,510.00"/>
<path d="M270.31,510.00 L284.38,497.50 L293.75,493.59 L300.00,493.59"/>
<path d="M287.50,510.00 L293.75,506.09 L300.00,506.09"/>
<path d="M121.09,503.44 L121.88,515.94 L125.00,526.09 L135.94,533.12 L150.00,539.38 L165.62,547.19 L181.25,555.00 L193.75,564.38 L200.00,567.50 L209.38,569.06 L217.19,569.84 L232.81,566.72 L251.56,561.25 L253.91,556.56"/>
<path d="M136.72,481.56 L162.50,497.19 L187.50,509.69 L207.81,522.19"/>
<path d="M204.69,513.59 L232.81,500.31 L260.94,487.03"/>
<path d="M275.00,480.00 L268.75,489.38 L256.25,503.44 L253.91,508.12 L246.88,515.94 L240.62,521.41"/>
<path d="M187.50,523.75 L193.75,523.75 L206.25,521.41 L221.88,519.06 L240.62,514.38 L253.91,508.12"/>
<path d="M200.00,525.31 L212.50,530.00 L225.00,531.56 L232.81,526.88 L240.62,521.41 L253.12,525.31 L260.94,530.00"/>
<path d="M193.75,542.50 L200.00,539.38 L212.50,537.81 L223.44,538.59 L229.69,542.50 L234.38,548.75 L237.50,553.44 L243.75,556.56 L251.56,555.78 L254.69,551.88 L256.25,545.62 L257.81,539.38 L260.94,531.56"/>
<path d="M193.75,542.50 L196.09,544.84 L209.38,545.62 L217.19,548.75 L212.50,551.88 L209.38,556.56 L215.62,561.25 L216.41,565.16 L215.62,569.84"/>
<path d="M210.94,553.44 L218.75,553.44 L223.44,558.12 L221.88,561.25 L217.19,561.25"/>
<path d="M221.88,545.62 L226.56,551.88 L228.12,558.12 L225.00,562.81 L218.75,565.16"/>
<path d="M240.00,459.69 L253.13,464.07 L266.26,470.63 L278.29,471.73 L285.95,468.45 L299.08,459.69"/>
<path d="M278.29,471.73 L275.01,483.76 L266.26,496.89 L253.13,505.65 L240.00,512.21"/>
<path d="M240.00,499.08 L260.79,487.05"/>
<path d="M240.00,520.96 L256.41,528.62 L261.88,529.72"/>
<path d="M303.46,529.72 L362.54,495.80 L426.00,460.79"/>
<path d="M312.21,519.87 L371.29,485.95 L424.90,457.51"/>
<path d="M302.36,467.35 L312.21,520.96"/>
<path d="M299.08,459.69 L305.65,448.75 L314.40,440.00"/>
<path d="M302.36,467.35 L320.96,460.79"/>
<path d="M320.96,440.00 L322.06,455.32 L319.87,461.88 L325.34,464.07 L338.47,461.88 L345.03,456.41 L342.84,450.94 L336.28,448.75 L327.53,448.75 L322.06,455.32"/>
<path d="M366.91,448.75 L371.29,446.56 L380.04,442.19 L383.33,440.00"/>
<path d="M383.33,440.00 L382.23,457.51 L383.33,475.01 L381.14,478.29"/>
<path d="M368.75,385.62 L371.88,395.00 L373.44,409.06 L374.22,423.12"/>
<path d="M378.12,382.50 L381.25,396.56 L383.59,415.31"/>
<path d="M300.00,391.88 L330.47,408.28"/>
<path d="M303.12,463.75 L312.50,445.00 L320.31,429.38 L331.25,410.62 L342.19,399.69 L354.69,391.88 L370.31,384.84 L378.12,382.50 L387.50,378.59 L406.25,370.00"/>
<path d="M337.50,448.12 L354.69,438.75 L373.44,427.81 L379.69,421.56 L396.88,410.62 L418.75,396.56 L435.94,379.38 L439.06,377.81"/>
<path d="M379.69,421.56 L382.81,432.50 L382.81,448.12 L382.03,470.00"/>
<path d="M367.19,448.12 L373.44,445.00 L379.69,440.31 L380.47,438.75"/>
<path d="M417.19,370.00 L420.31,379.38 L421.88,388.75"/>
<path d="M432.81,370.00 L437.50,376.25 L443.75,373.12"/>
<path d="M435.94,379.38 L440.62,380.94 L445.31,387.19 L446.88,391.88"/>
<path d="M479.69,370.00 L481.25,379.38 L478.12,385.62 L479.69,393.44 L482.81,409.06 L483.59,421.56 L478.12,424.69"/>
<path d="M485.94,370.00 L493.75,384.06 L495.31,399.69 L492.19,409.06 L482.81,420.00"/>
<path d="M412.50,449.69 L415.62,457.50"/>
<path d="M894.37,420.89 L890.30,421.40 L886.75,422.41 L885.23,425.46 L885.23,431.55 L886.24,436.62 L889.29,441.70 L893.35,445.76 L897.41,447.79 L900.46,446.78 L903.50,440.69 L908.58,444.75 L917.72,445.76 L928.88,444.75 L930.91,445.25 L934.97,446.78 L951.22,454.90 L952.23,455.91 L956.29,455.91 L959.34,453.88 L959.34,433.58 L957.31,431.55 L954.26,428.50 L949.19,426.47 L943.10,425.46 L935.99,422.92 L930.91,421.40 L926.85,421.90 L922.79,419.37 L918.73,415.30 L916.70,411.75 L913.65,411.24 L902.49,415.81 L897.41,415.30 L894.87,413.78 L894.37,409.21 L892.34,405.15 L888.27,403.63 L885.23,403.12 L881.17,406.17 L877.11,408.20 L876.60,412.26 L880.15,415.30 L885.23,415.81 L890.30,413.78 L891.83,411.24"/>
<path d="M897.41,422.41 L900.46,437.64 L903.50,440.69"/>
<path d="M900.46,420.38 L908.58,422.41 L912.64,427.49 L914.67,435.61 L913.65,441.70 L911.62,444.75"/>
<path d="M913.65,411.24 L916.70,418.35 L923.81,427.49 L927.87,433.58 L928.88,444.75"/>
<path d="M929.90,422.41 L928.88,425.46 L932.94,429.52 L941.07,431.55 L950.20,433.58 L949.19,431.55 L941.07,427.49 L933.96,424.44 L929.90,422.41"/>
<path d="M937.01,442.72 L951.22,445.76"/>
<path d="M953.25,444.75 L951.22,451.85 L953.25,455.91"/>
<path d="M883.20,416.32 L883.20,425.46"/>
<path d="M884.21,416.32 L884.21,425.46"/>
<path d="M958.32,433.58 L958.32,440.69"/>
<path d="M958.83,445.76 L958.83,454.90"/>
<path d="M257.50,525.00 L266.70,510.30 L280.00,499.70 L293.30,494.40 L300.00,497.00 L305.30,507.70 L308.00,521.00 L308.00,531.60"/>
<path d="M262.80,531.60 L272.00,518.30 L285.30,511.70 L296.00,511.70 L300.00,518.30"/>
<path d="M133.52,494.62 L139.54,496.26 L151.58,505.01 L155.95,507.75 L165.80,512.67 L171.27,513.76 L182.21,518.14 L189.87,523.61 L204.09,524.70 L209.56,523.61"/>
<path d="M134.07,496.26 L142.82,501.73 L152.67,507.20 L153.76,511.58 L155.95,515.95 L162.52,518.14 L166.89,515.95 L175.65,519.23 L190.96,524.70"/>
<path d="M131.88,498.45 L135.16,517.05 L142.82,520.33 L153.76,523.61 L164.70,525.80 L175.65,529.08 L190.96,535.65 L192.06,534.55 L190.42,526.89"/>
<path d="M130.79,496.26 L129.69,502.82 L130.24,520.33 L136.26,523.61 L146.11,527.99 L159.23,532.36 L173.46,536.74 L186.59,540.02"/>
<path d="M124.22,525.80 L127.51,529.08 L142.82,540.02"/>
<path d="M126.41,526.89 L132.98,524.16"/>
<path d="M125.32,470.00 L125.86,475.47 L123.13,477.66 L120.94,485.32 L120.39,494.07 L120.94,502.82 L120.94,513.76 L123.13,522.52 L124.77,526.89"/>
<path d="M125.86,475.47 L129.69,479.85 L132.43,484.22 L133.52,491.88 L132.98,494.62"/>
<path d="M132.98,470.00 L133.52,478.21"/>
<path d="M141.73,470.00 L139.54,476.56"/>
<path d="M122.58,480.94 L124.22,489.69 L126.41,500.63 L127.51,506.11 L128.05,510.48 L130.24,513.76"/>
<path d="M123.13,495.16 L124.22,502.82 L126.41,510.48"/>
<path d="M139.54,502.82 L146.11,508.29 L151.58,510.48"/>
<path d="M153.76,506.11 L157.05,507.75 L164.70,511.58 L164.16,517.05"/>
<path d="M165.80,512.67 L166.89,514.31 L180.02,518.69 L185.49,521.42"/>
<path d="M332.00,398.00 L336.40,392.50 L345.20,387.00 L353.90,379.40 L363.80,373.90 L381.30,363.50 L402.00,352.00 L418.50,341.10 L429.70,335.80"/>
<path d="M341.90,395.80 L352.80,388.10 L366.00,380.50 L379.00,372.80 L392.20,364.10 L418.50,348.75 L434.40,342.00"/>
<path d="M332.00,398.00 L332.50,401.00 L336.00,402.50 L338.00,402.00"/>
<path d="M334.20,410.00 L341.90,404.50 L356.10,395.80 L369.20,386.00 L376.90,382.70 L387.50,377.20"/>
<path d="M339.70,410.00 L347.40,401.30 L356.10,394.70 L368.10,388.10"/>
<path d="M353.90,384.90 L363.80,381.60 L374.70,372.80 L387.80,363.50 L393.30,363.50"/>
<path d="M401.00,356.40 L416.30,347.70 L419.60,349.80 L402.00,358.60"/>
</svg>
</body></html>
